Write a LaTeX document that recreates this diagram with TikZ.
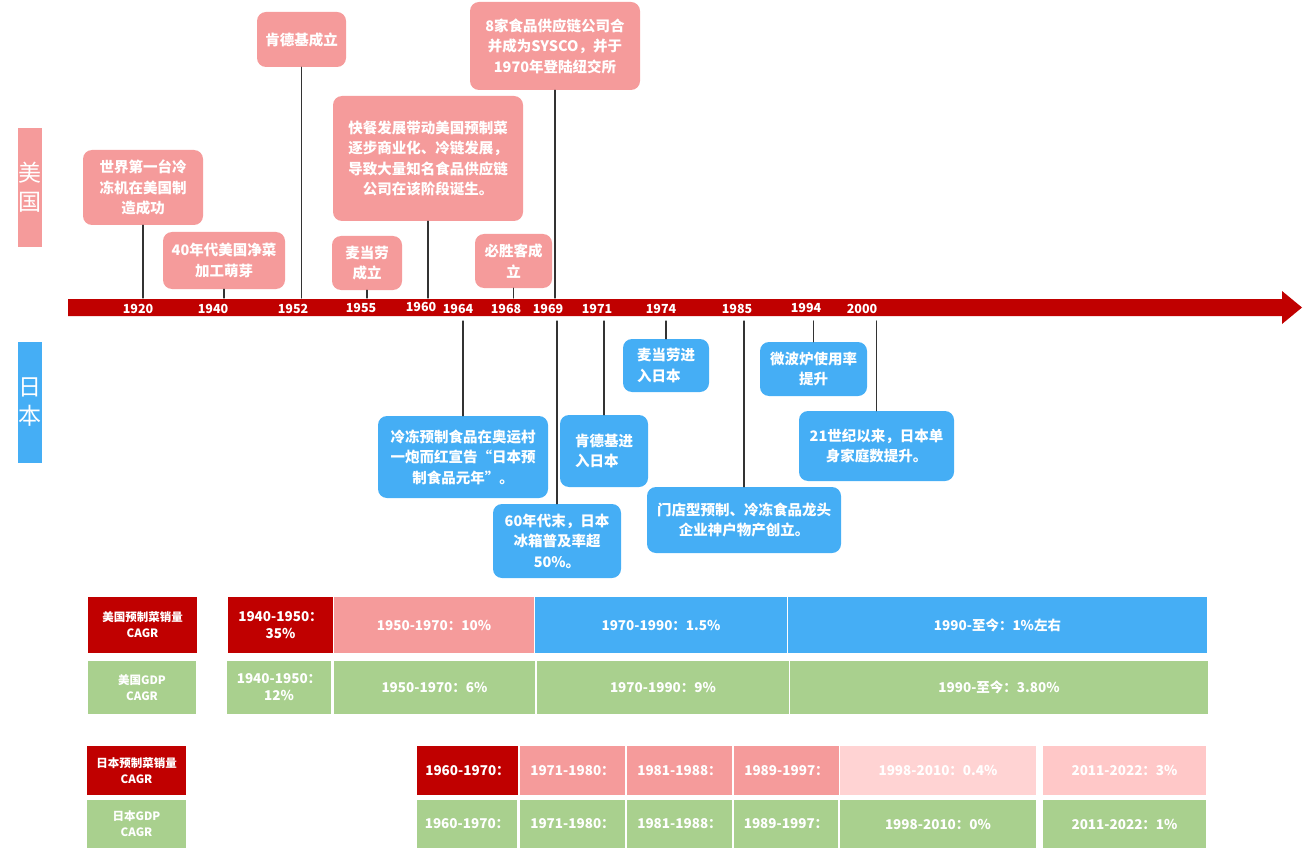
\documentclass[tikz,border=0pt]{standalone}
\usepackage{fontspec}
\setmainfont{Noto Sans CJK SC}
\definecolor{bardark}{HTML}{C00000}
\definecolor{uspink}{HTML}{F59B9B}
\definecolor{jpblue}{HTML}{45AEF5}
\definecolor{gdpgreen}{HTML}{A9D08E}
\definecolor{palepink}{HTML}{FFD3D3}
\definecolor{softpink}{HTML}{FFC8C8}

\begin{document}
\begin{tikzpicture}[
  x=1pt,y=-1pt,
  font=\bfseries\fontsize{14.5}{20.5}\selectfont,
  evt/.style={rounded corners=9pt,text=white,align=center,inner sep=0pt},
  usevt/.style={evt,fill=uspink},
  jpevt/.style={evt,fill=jpblue},
  tag/.style={text=white,align=center,inner sep=0pt,minimum width=24pt,
              font=\mdseries\fontsize{23}{29}\selectfont},
  yearlbl/.style={text=white,inner sep=0pt,font=\bfseries\fontsize{12.5}{14}\selectfont},
  stem/.style={draw=black!80,line width=1.3pt},
  cell/.style={text=white,align=center,inner sep=0pt,
               font=\bfseries\fontsize{13.5}{17}\selectfont},
  lbl/.style={cell,font=\bfseries\fontsize{11.5}{16}\selectfont},
  every path/.style={line cap=round,line join=round}
]
\useasboundingbox (0,0) rectangle (1308,850);

% country tags on the left
\node[tag,fill=uspink,minimum height=119pt] (ustag) at (30,187.5) {美\\国};
\node[tag,fill=jpblue,minimum height=121pt] (jptag) at (30,402.5) {日\\本};

% the time axis
\fill[bardark] (68,299) -- (1282,299) -- (1282,291) -- (1302,307.5)
  -- (1282,324) -- (1282,316) -- (68,316) -- cycle;
\coordinate (bartop) at (0,298);
\coordinate (barbot) at (0,321);

\node[yearlbl] (y1920) at (138,309) {1920};
\node[yearlbl] (y1940) at (213,309) {1940};
\node[yearlbl] (y1952) at (293,309) {1952};
\node[yearlbl] (y1955) at (361,308) {1955};
\node[yearlbl] (y1960) at (421,307) {1960};
\node[yearlbl] (y1964) at (458,309) {1964};
\node[yearlbl] (y1968) at (506,309) {1968};
\node[yearlbl] (y1969) at (548,309) {1969};
\node[yearlbl] (y1971) at (597,309) {1971};
\node[yearlbl] (y1974) at (661,309) {1974};
\node[yearlbl] (y1985) at (737,309) {1985};
\node[yearlbl] (y1994) at (806,308) {1994};
\node[yearlbl] (y2000) at (862,309) {2000};

% US events above the axis
\node[usevt,minimum width=120pt,minimum height=75pt] (fridge) at (143,187.5)
  {世界第一台冷\\冻机在美国制\\造成功};
\node[usevt,minimum width=122pt,minimum height=57pt] (netveg) at (224,260.5)
  {40年代美国净菜\\加工萌芽};
\node[usevt,minimum width=89pt,minimum height=55pt] (kfcus) at (301.5,39.5)
  {肯德基成立};
\node[usevt,minimum width=70pt,minimum height=54pt] (mcdus) at (367,263)
  {麦当劳\\成立};
\node[usevt,minimum width=190pt,minimum height=125pt] (fastfood) at (428,158.5)
  {快餐发展带动美国预制菜\\逐步商业化、冷链发展，\\导致大量知名食品供应链\\公司在该阶段诞生。};
\node[usevt,minimum width=77pt,minimum height=54pt] (pizzahut) at (513.5,261)
  {必胜客成\\立};
\node[usevt,minimum width=170pt,minimum height=88pt] (sysco) at (555,46)
  {8家食品供应链公司合\\并成为SYSCO，并于\\1970年登陆纽交所};

\draw[stem] (fridge.south) -- (fridge.south |- bartop);
\draw[stem] (netveg.south) -- (netveg.south |- bartop);
\draw[stem] (kfcus.south) -- (kfcus.south |- bartop);
\draw[stem] (mcdus.south) -- (mcdus.south |- bartop);
\draw[stem] (fastfood.south) -- (fastfood.south |- bartop);
\draw[stem] (pizzahut.south) -- (pizzahut.south |- bartop);
\draw[stem] (sysco.south) -- (sysco.south |- bartop);

% Japan events below the axis
\node[jpevt,minimum width=170pt,minimum height=82pt] (olympic) at (463,457)
  {冷冻预制食品在奥运村\\一炮而红宣告“日本预\\制食品元年”。};
\node[jpevt,minimum width=128pt,minimum height=74pt] (fridgejp) at (557,541)
  {60年代末，日本\\冰箱普及率超\\50\%。};
\node[jpevt,align=left,minimum width=88pt,minimum height=72pt] (kfcjp) at (604,451)
  {肯德基进\\入日本};
\node[jpevt,align=left,minimum width=86pt,minimum height=53pt] (mcdjp) at (666,365.5)
  {麦当劳进\\入日本};
\node[jpevt,minimum width=194pt,minimum height=66pt] (kobe) at (744,520)
  {门店型预制、冷冻食品龙头\\企业神户物产创立。};
\node[jpevt,minimum width=107pt,minimum height=54pt] (microwave) at (813.5,369)
  {微波炉使用率\\提升};
\node[jpevt,minimum width=155pt,minimum height=70pt] (single) at (876.5,446)
  {21世纪以来，日本单\\身家庭数提升。};

\draw[stem] (olympic.north) -- (olympic.north |- barbot);
\draw[stem] (fridgejp.north) -- (fridgejp.north |- barbot);
\draw[stem] (kfcjp.north) -- (kfcjp.north |- barbot);
\draw[stem] (mcdjp.north) -- (mcdjp.north |- barbot);
\draw[stem] (kobe.north) -- (kobe.north |- barbot);
\draw[stem] (microwave.north) -- (microwave.north |- barbot);
\draw[stem] (single.north) -- (single.north |- barbot);

% CAGR table, US rows
\node[lbl,fill=bardark,minimum width=109pt,minimum height=56pt] (ussaleslbl) at (142.5,625)
  {美国预制菜销量\\CAGR};
\node[cell,fill=bardark,minimum width=105pt,minimum height=56pt] (us4050s) at (280.5,625)
  {1940-1950：\\35\%};
\node[cell,fill=uspink,minimum width=200pt,minimum height=56pt] (us5070s) at (434,625)
  {1950-1970：10\%};
\node[cell,fill=jpblue,minimum width=252pt,minimum height=56pt] (us7090s) at (661,625)
  {1970-1990：1.5\%};
\node[cell,fill=jpblue,minimum width=419pt,minimum height=56pt] (us90s) at (997.5,625)
  {1990-至今：1\%左右};

\node[lbl,fill=gdpgreen,minimum width=108pt,minimum height=53pt] (usgdplbl) at (142,687.5)
  {美国GDP\\CAGR};
\node[cell,fill=gdpgreen,minimum width=104pt,minimum height=53pt] (us4050g) at (279,687.5)
  {1940-1950：\\12\%};
\node[cell,fill=gdpgreen,minimum width=201pt,minimum height=53pt] (us5070g) at (434.5,687.5)
  {1950-1970：6\%};
\node[cell,fill=gdpgreen,minimum width=252pt,minimum height=53pt] (us7090g) at (663,687.5)
  {1970-1990：9\%};
\node[cell,fill=gdpgreen,minimum width=418pt,minimum height=53pt] (us90g) at (999,687.5)
  {1990-至今：3.80\%};

% CAGR table, Japan rows
\node[lbl,fill=bardark,minimum width=99pt,minimum height=49pt] (jpsaleslbl) at (136.5,770.5)
  {日本预制菜销量\\CAGR};
\node[cell,fill=bardark,minimum width=101pt,minimum height=49pt] (jp60s) at (467.5,770.5)
  {1960-1970：};
\node[cell,fill=uspink,minimum width=105pt,minimum height=49pt] (jp71s) at (572.5,770.5)
  {1971-1980：};
\node[cell,fill=uspink,minimum width=105pt,minimum height=49pt] (jp81s) at (679.5,770.5)
  {1981-1988：};
\node[cell,fill=uspink,minimum width=105pt,minimum height=49pt] (jp89s) at (786.5,770.5)
  {1989-1997：};
\node[cell,fill=palepink,minimum width=196pt,minimum height=49pt] (jp98s) at (938,770.5)
  {1998-2010：0.4\%};
\node[cell,fill=softpink,minimum width=163pt,minimum height=49pt] (jp11s) at (1124.5,770.5)
  {2011-2022：3\%};

\node[lbl,fill=gdpgreen,minimum width=99pt,minimum height=48pt] (jpgdplbl) at (136.5,824)
  {日本GDP\\CAGR};
\node[cell,fill=gdpgreen,minimum width=100pt,minimum height=48pt] (jp60g) at (467,824)
  {1960-1970：};
\node[cell,fill=gdpgreen,minimum width=105pt,minimum height=48pt] (jp71g) at (572.5,824)
  {1971-1980：};
\node[cell,fill=gdpgreen,minimum width=105pt,minimum height=48pt] (jp81g) at (679.5,824)
  {1981-1988：};
\node[cell,fill=gdpgreen,minimum width=104pt,minimum height=48pt] (jp89g) at (786,824)
  {1989-1997：};
\node[cell,fill=gdpgreen,minimum width=196pt,minimum height=48pt] (jp98g) at (938,824)
  {1998-2010：0\%};
\node[cell,fill=gdpgreen,minimum width=163pt,minimum height=48pt] (jp11g) at (1124.5,824)
  {2011-2022：1\%};
\end{tikzpicture}
\end{document}
